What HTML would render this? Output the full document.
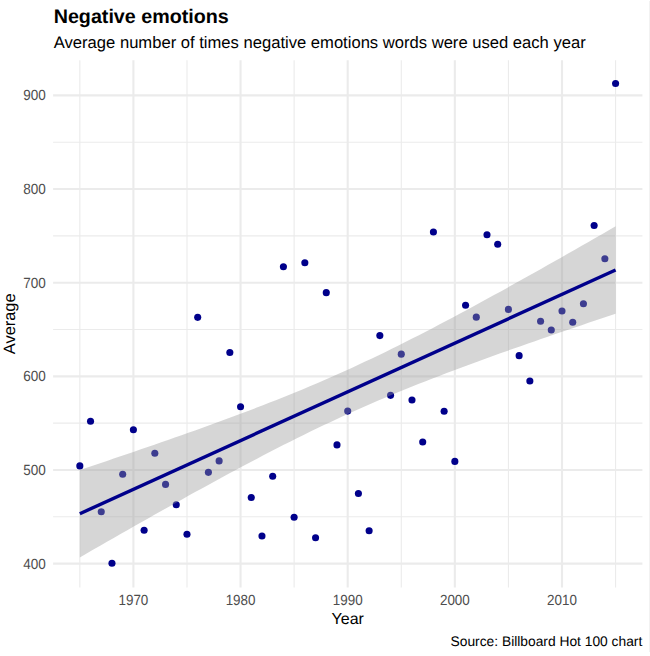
<!DOCTYPE html>
<html><head><meta charset="utf-8"><title>Negative emotions</title>
<style>html,body{margin:0;padding:0;background:#fff;width:650px;height:656px;overflow:hidden}svg{display:block}text{font-family:"Liberation Sans",sans-serif;text-rendering:geometricPrecision}</style>
</head><body>
<svg width="650" height="656" viewBox="0 0 650 656" font-family='"Liberation Sans", sans-serif'><rect x="0" y="0" width="650" height="656" fill="#fff"/>
<line x1="53.1" x2="642.4" y1="516.82" y2="516.82" stroke="#ebebeb" stroke-width="1.1"/>
<line x1="53.1" x2="642.4" y1="423.17" y2="423.17" stroke="#ebebeb" stroke-width="1.1"/>
<line x1="53.1" x2="642.4" y1="329.52" y2="329.52" stroke="#ebebeb" stroke-width="1.1"/>
<line x1="53.1" x2="642.4" y1="235.88" y2="235.88" stroke="#ebebeb" stroke-width="1.1"/>
<line x1="53.1" x2="642.4" y1="142.22" y2="142.22" stroke="#ebebeb" stroke-width="1.1"/>
<line x1="79.83" x2="79.83" y1="60.2" y2="587.6" stroke="#ebebeb" stroke-width="1.1"/>
<line x1="186.98" x2="186.98" y1="60.2" y2="587.6" stroke="#ebebeb" stroke-width="1.1"/>
<line x1="294.12" x2="294.12" y1="60.2" y2="587.6" stroke="#ebebeb" stroke-width="1.1"/>
<line x1="401.27" x2="401.27" y1="60.2" y2="587.6" stroke="#ebebeb" stroke-width="1.1"/>
<line x1="508.42" x2="508.42" y1="60.2" y2="587.6" stroke="#ebebeb" stroke-width="1.1"/>
<line x1="615.58" x2="615.58" y1="60.2" y2="587.6" stroke="#ebebeb" stroke-width="1.1"/>
<line x1="53.1" x2="642.4" y1="563.65" y2="563.65" stroke="#ebebeb" stroke-width="2.1"/>
<line x1="53.1" x2="642.4" y1="470.00" y2="470.00" stroke="#ebebeb" stroke-width="2.1"/>
<line x1="53.1" x2="642.4" y1="376.35" y2="376.35" stroke="#ebebeb" stroke-width="2.1"/>
<line x1="53.1" x2="642.4" y1="282.70" y2="282.70" stroke="#ebebeb" stroke-width="2.1"/>
<line x1="53.1" x2="642.4" y1="189.05" y2="189.05" stroke="#ebebeb" stroke-width="2.1"/>
<line x1="53.1" x2="642.4" y1="95.40" y2="95.40" stroke="#ebebeb" stroke-width="2.1"/>
<line x1="133.40" x2="133.40" y1="60.2" y2="587.6" stroke="#ebebeb" stroke-width="2.1"/>
<line x1="240.55" x2="240.55" y1="60.2" y2="587.6" stroke="#ebebeb" stroke-width="2.1"/>
<line x1="347.70" x2="347.70" y1="60.2" y2="587.6" stroke="#ebebeb" stroke-width="2.1"/>
<line x1="454.85" x2="454.85" y1="60.2" y2="587.6" stroke="#ebebeb" stroke-width="2.1"/>
<line x1="562.00" x2="562.00" y1="60.2" y2="587.6" stroke="#ebebeb" stroke-width="2.1"/>
<circle cx="79.83" cy="465.88" r="3.55" fill="#00008B"/>
<circle cx="90.54" cy="421.30" r="3.55" fill="#00008B"/>
<circle cx="101.26" cy="511.77" r="3.55" fill="#00008B"/>
<circle cx="111.97" cy="563.28" r="3.55" fill="#00008B"/>
<circle cx="122.69" cy="474.31" r="3.55" fill="#00008B"/>
<circle cx="133.40" cy="429.73" r="3.55" fill="#00008B"/>
<circle cx="144.12" cy="530.31" r="3.55" fill="#00008B"/>
<circle cx="154.83" cy="453.24" r="3.55" fill="#00008B"/>
<circle cx="165.55" cy="484.42" r="3.55" fill="#00008B"/>
<circle cx="176.26" cy="504.74" r="3.55" fill="#00008B"/>
<circle cx="186.98" cy="534.24" r="3.55" fill="#00008B"/>
<circle cx="197.69" cy="317.35" r="3.55" fill="#00008B"/>
<circle cx="208.41" cy="472.34" r="3.55" fill="#00008B"/>
<circle cx="219.12" cy="460.92" r="3.55" fill="#00008B"/>
<circle cx="229.84" cy="352.56" r="3.55" fill="#00008B"/>
<circle cx="240.55" cy="406.79" r="3.55" fill="#00008B"/>
<circle cx="251.26" cy="497.53" r="3.55" fill="#00008B"/>
<circle cx="261.98" cy="536.02" r="3.55" fill="#00008B"/>
<circle cx="272.69" cy="476.27" r="3.55" fill="#00008B"/>
<circle cx="283.41" cy="266.78" r="3.55" fill="#00008B"/>
<circle cx="294.12" cy="517.20" r="3.55" fill="#00008B"/>
<circle cx="304.84" cy="262.75" r="3.55" fill="#00008B"/>
<circle cx="315.56" cy="537.80" r="3.55" fill="#00008B"/>
<circle cx="326.27" cy="292.63" r="3.55" fill="#00008B"/>
<circle cx="336.99" cy="444.90" r="3.55" fill="#00008B"/>
<circle cx="347.70" cy="411.09" r="3.55" fill="#00008B"/>
<circle cx="358.41" cy="493.51" r="3.55" fill="#00008B"/>
<circle cx="369.13" cy="530.78" r="3.55" fill="#00008B"/>
<circle cx="379.85" cy="335.61" r="3.55" fill="#00008B"/>
<circle cx="390.56" cy="395.36" r="3.55" fill="#00008B"/>
<circle cx="401.27" cy="354.15" r="3.55" fill="#00008B"/>
<circle cx="411.99" cy="399.95" r="3.55" fill="#00008B"/>
<circle cx="422.71" cy="442.00" r="3.55" fill="#00008B"/>
<circle cx="433.42" cy="231.94" r="3.55" fill="#00008B"/>
<circle cx="444.13" cy="411.19" r="3.55" fill="#00008B"/>
<circle cx="454.85" cy="461.38" r="3.55" fill="#00008B"/>
<circle cx="465.57" cy="305.18" r="3.55" fill="#00008B"/>
<circle cx="476.28" cy="317.16" r="3.55" fill="#00008B"/>
<circle cx="487.00" cy="234.75" r="3.55" fill="#00008B"/>
<circle cx="497.71" cy="244.30" r="3.55" fill="#00008B"/>
<circle cx="508.42" cy="309.39" r="3.55" fill="#00008B"/>
<circle cx="519.14" cy="355.65" r="3.55" fill="#00008B"/>
<circle cx="529.86" cy="380.94" r="3.55" fill="#00008B"/>
<circle cx="540.57" cy="321.19" r="3.55" fill="#00008B"/>
<circle cx="551.28" cy="329.99" r="3.55" fill="#00008B"/>
<circle cx="562.00" cy="310.98" r="3.55" fill="#00008B"/>
<circle cx="572.72" cy="322.31" r="3.55" fill="#00008B"/>
<circle cx="583.43" cy="303.77" r="3.55" fill="#00008B"/>
<circle cx="594.14" cy="225.57" r="3.55" fill="#00008B"/>
<circle cx="604.86" cy="258.82" r="3.55" fill="#00008B"/>
<circle cx="615.58" cy="83.51" r="3.55" fill="#00008B"/>
<path d="M79.83,470.00 L86.61,467.73 L93.39,465.46 L100.17,463.18 L106.95,460.90 L113.73,458.61 L120.51,456.31 L127.30,454.01 L134.08,451.70 L140.86,449.37 L147.64,447.04 L154.42,444.70 L161.20,442.35 L167.99,439.99 L174.77,437.62 L181.55,435.23 L188.33,432.83 L195.11,430.42 L201.89,427.99 L208.68,425.54 L215.46,423.08 L222.24,420.60 L229.02,418.10 L235.80,415.58 L242.58,413.03 L249.37,410.47 L256.15,407.87 L262.93,405.25 L269.71,402.61 L276.49,399.93 L283.27,397.22 L290.06,394.48 L296.84,391.71 L303.62,388.90 L310.40,386.05 L317.18,383.17 L323.96,380.25 L330.75,377.28 L337.53,374.28 L344.31,371.24 L351.09,368.15 L357.87,365.03 L364.65,361.86 L371.44,358.66 L378.22,355.41 L385.00,352.13 L391.78,348.80 L398.56,345.45 L405.34,342.05 L412.13,338.62 L418.91,335.16 L425.69,331.67 L432.47,328.15 L439.25,324.60 L446.03,321.02 L452.82,317.42 L459.60,313.80 L466.38,310.15 L473.16,306.48 L479.94,302.80 L486.72,299.09 L493.51,295.37 L500.29,291.63 L507.07,287.88 L513.85,284.11 L520.63,280.32 L527.41,276.53 L534.20,272.72 L540.98,268.91 L547.76,265.08 L554.54,261.24 L561.32,257.39 L568.10,253.54 L574.89,249.67 L581.67,245.80 L588.45,241.93 L595.23,238.04 L602.01,234.15 L608.79,230.25 L615.58,226.35 L615.58,313.75 L608.79,316.02 L602.01,318.29 L595.23,320.56 L588.45,322.85 L581.67,325.14 L574.89,327.43 L568.10,329.74 L561.32,332.05 L554.54,334.37 L547.76,336.70 L540.98,339.05 L534.20,341.40 L527.41,343.76 L520.63,346.13 L513.85,348.52 L507.07,350.92 L500.29,353.33 L493.51,355.76 L486.72,358.21 L479.94,360.67 L473.16,363.15 L466.38,365.65 L459.60,368.17 L452.82,370.71 L446.03,373.28 L439.25,375.88 L432.47,378.49 L425.69,381.14 L418.91,383.82 L412.13,386.53 L405.34,389.27 L398.56,392.04 L391.78,394.85 L385.00,397.70 L378.22,400.58 L371.44,403.50 L364.65,406.46 L357.87,409.47 L351.09,412.51 L344.31,415.59 L337.53,418.72 L330.75,421.88 L323.96,425.09 L317.18,428.34 L310.40,431.62 L303.62,434.94 L296.84,438.30 L290.06,441.70 L283.27,445.12 L276.49,448.59 L269.71,452.08 L262.93,455.60 L256.15,459.15 L249.37,462.72 L242.58,466.32 L235.80,469.95 L229.02,473.60 L222.24,477.26 L215.46,480.95 L208.68,484.66 L201.89,488.38 L195.11,492.12 L188.33,495.87 L181.55,499.64 L174.77,503.42 L167.99,507.22 L161.20,511.02 L154.42,514.84 L147.64,518.67 L140.86,522.51 L134.08,526.35 L127.30,530.21 L120.51,534.07 L113.73,537.94 L106.95,541.82 L100.17,545.71 L93.39,549.60 L86.61,553.50 L79.83,557.40Z" fill="#999999" fill-opacity="0.4"/>
<line x1="79.83" y1="513.70" x2="615.58" y2="270.05" stroke="#00008B" stroke-width="3.4"/>
<text transform="translate(45.8 568.55) scale(1 1.1)" text-anchor="end" font-size="13.5" fill="#4d4d4d">400</text>
<text transform="translate(45.8 474.90) scale(1 1.1)" text-anchor="end" font-size="13.5" fill="#4d4d4d">500</text>
<text transform="translate(45.8 381.25) scale(1 1.1)" text-anchor="end" font-size="13.5" fill="#4d4d4d">600</text>
<text transform="translate(45.8 287.60) scale(1 1.1)" text-anchor="end" font-size="13.5" fill="#4d4d4d">700</text>
<text transform="translate(45.8 193.95) scale(1 1.1)" text-anchor="end" font-size="13.5" fill="#4d4d4d">800</text>
<text transform="translate(45.8 100.30) scale(1 1.1)" text-anchor="end" font-size="13.5" fill="#4d4d4d">900</text>
<text transform="translate(133.40 604.8) scale(1 1.1)" text-anchor="middle" font-size="13.4" fill="#4d4d4d">1970</text>
<text transform="translate(240.55 604.8) scale(1 1.1)" text-anchor="middle" font-size="13.4" fill="#4d4d4d">1980</text>
<text transform="translate(347.70 604.8) scale(1 1.1)" text-anchor="middle" font-size="13.4" fill="#4d4d4d">1990</text>
<text transform="translate(454.85 604.8) scale(1 1.1)" text-anchor="middle" font-size="13.4" fill="#4d4d4d">2000</text>
<text transform="translate(562.00 604.8) scale(1 1.1)" text-anchor="middle" font-size="13.4" fill="#4d4d4d">2010</text>
<text x="53.7" y="22.9" font-size="19.7" font-weight="bold" fill="#000">Negative emotions</text>
<text x="53.8" y="47.8" font-size="16.6" fill="#000">Average number of times negative emotions words were used each year</text>
<text x="347.75" y="623.7" text-anchor="middle" font-size="16" fill="#000">Year</text>
<text transform="translate(15.1 323.8) rotate(-90)" text-anchor="middle" font-size="16.4" fill="#000">Average</text>
<text x="642.3" y="645.7" text-anchor="end" font-size="13.8" fill="#000">Source: Billboard Hot 100 chart</text>
<line x1="649.5" y1="1" x2="649.5" y2="652" stroke="#f2f2f2" stroke-width="1"/></svg>
</body></html>
